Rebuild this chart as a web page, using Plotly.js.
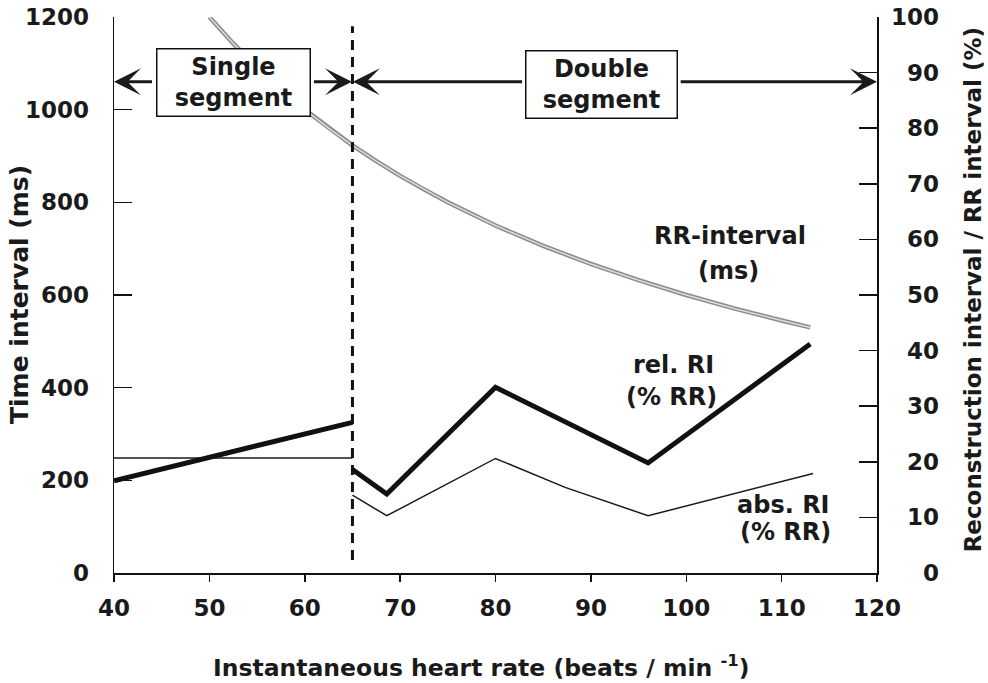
<!DOCTYPE html>
<html><head><meta charset="utf-8">
<script src="https://cdn.plot.ly/plotly-3.0.1.min.js"></script>
<style>html,body{margin:0;padding:0;background:#fff}#chart{width:988px;height:683px}</style>
</head><body><div id="chart"></div>
<script>
// RR-interval (ms) vs heart rate
const rrHeartRate = [50, 52.5, 55, 57.5, 60, 62.5, 65, 67.5, 70, 72.5, 75, 80, 85, 90, 95, 100, 105, 110, 113];
const rrIntervalMs = [1200, 1143, 1091, 1043, 1000, 960, 923, 889, 857, 828, 800, 750, 706, 667, 632, 600, 571, 545, 530];

// Single segment (% RR)
const relSingleHR = [40, 65];
const relSinglePct = [16.6, 27.1];
const absSingleHR = [40, 65];
const absSinglePct = [20.7, 20.7];

// Double segment (% RR)
const relDoubleHR = [65, 68.6, 80, 96, 113];
const relDoublePct = [18.6, 14.2, 33.4, 19.8, 41.2];
const absDoubleHR = [65, 68.6, 80, 87.3, 96, 113.3];
const absDoublePct = [14.0, 10.3, 20.6, 15.4, 10.3, 17.9];

const segmentBoundaryHR = 65;
const xTicks = [40, 50, 60, 70, 80, 90, 100, 110, 120];
const yTicks = [0, 200, 400, 600, 800, 1000, 1200];
const y2Ticks = [0, 10, 20, 30, 40, 50, 60, 70, 80, 90, 100];
const y2TickText = ['\u2007\u20070', '\u200710', '\u200720', '\u200730', '\u200740', '\u200750', '\u200760', '\u200770', '\u200780', '\u200790', '100'];

const FONT = 'DejaVu Sans, Verdana, sans-serif';
const INK = '#1a1a1a';

const traces = [
  {x: rrHeartRate, y: rrIntervalMs, mode: 'lines', line: {color: '#8c8c8c', width: 4.5}, hoverinfo: 'skip'},
  {x: rrHeartRate, y: rrIntervalMs, mode: 'lines', line: {color: '#dcdcdc', width: 1.5}, hoverinfo: 'skip'},
  {x: absSingleHR, y: absSinglePct, yaxis: 'y2', mode: 'lines', line: {color: INK, width: 1.5}},
  {x: relSingleHR, y: relSinglePct, yaxis: 'y2', mode: 'lines', line: {color: '#111', width: 5}},
  {x: absDoubleHR, y: absDoublePct, yaxis: 'y2', mode: 'lines', line: {color: INK, width: 1.5}},
  {x: relDoubleHR, y: relDoublePct, yaxis: 'y2', mode: 'lines', line: {color: '#111', width: 5}}
];

function arrow(x, ax, y) {
  return {x: x, y: y, ax: ax, ay: y, xref: 'x', yref: 'y', axref: 'x', ayref: 'y',
    text: ' ', showarrow: true, arrowhead: 3, arrowsize: 1.5, arrowwidth: 3, arrowcolor: INK, standoff: 0, startstandoff: 0};
}
function label(text, x, y, xref, yref, size, extra) {
  return Object.assign({x: x, y: y, xref: xref || 'x', yref: yref || 'y', text: text, showarrow: false,
    xanchor: 'center', yanchor: 'middle', font: {family: FONT, size: size || 24, color: INK, weight: 'bold'}}, extra || {});
}

const arrowY = 1060;
const annotations = [
  arrow(40, 44.3, arrowY),
  arrow(64.95, 60.65, arrowY),
  arrow(65.05, 83.1, arrowY),
  arrow(120, 99.1, arrowY),
  label('Single<br>segment', 52.5, 1058, 'x', 'y', 24, {bgcolor: '#fff', bordercolor: '#111', borderwidth: 1.5, width: 150, height: 64, borderpad: 1}),
  label('Double<br>segment', 91.1, 1055, 'x', 'y', 24, {bgcolor: '#fff', bordercolor: '#111', borderwidth: 1.5, width: 148, height: 64, borderpad: 1}),
  label('RR-interval', 104.6, 727),
  label('(ms)', 104.4, 652),
  label('rel. RI', 98.7, 37.4, 'x', 'y2'),
  label('(% RR)', 98.5, 31.7, 'x', 'y2'),
  label('abs. RI', 110.2, 12.2, 'x', 'y2'),
  label('(% RR)', 110.4, 7.4, 'x', 'y2'),
  label('Time interval (ms)', -0.1245, 0.5, 'paper', 'paper', 25, {textangle: -90}),
  label('Reconstruction interval / RR interval (%)', 1.127, 0.51, 'paper', 'paper', 23, {textangle: -90}),
  label('Instantaneous heart rate (beats / min <sup>-1</sup>)', 0.481, -0.169, 'paper', 'paper', 23.5)
];

const tickFont = {family: FONT, size: 23, color: INK, weight: 'bold'};
const layout = {
  width: 988, height: 683,
  margin: {l: 114, r: 111, t: 17, b: 110},
  paper_bgcolor: '#fff', plot_bgcolor: '#fff',
  showlegend: false,
  xaxis: {range: [40, 120], tickvals: xTicks, showgrid: false, zeroline: false, showline: true,
    linecolor: '#111', linewidth: 1.5, ticks: 'outside', ticklen: 7, tickwidth: 1.5, tickcolor: '#111',
    tickfont: tickFont, ticklabelstandoff: 7},
  yaxis: {range: [0, 1200], tickvals: yTicks, showgrid: false, zeroline: false, showline: true,
    linecolor: '#111', linewidth: 1.5, ticks: 'inside', ticklen: 18, tickwidth: 1.5, tickcolor: '#111',
    tickfont: tickFont, ticklabelstandoff: 19},
  yaxis2: {range: [0, 100], overlaying: 'y', side: 'right', tickvals: y2Ticks, ticktext: y2TickText,
    showgrid: false, zeroline: false, showline: true, linecolor: '#111', linewidth: 1.5,
    ticks: 'inside', ticklen: 18, tickwidth: 1.5, tickcolor: '#111', tickfont: tickFont, ticklabelstandoff: 8},
  shapes: [{type: 'line', xref: 'x', yref: 'y', x0: segmentBoundaryHR, x1: segmentBoundaryHR, y0: 28, y1: 1180,
    line: {color: '#111', width: 3, dash: '10px,7px'}}],
  annotations: annotations
};

Plotly.newPlot('chart', traces, layout, {staticPlot: true, displayModeBar: false});
</script>
</body></html>
